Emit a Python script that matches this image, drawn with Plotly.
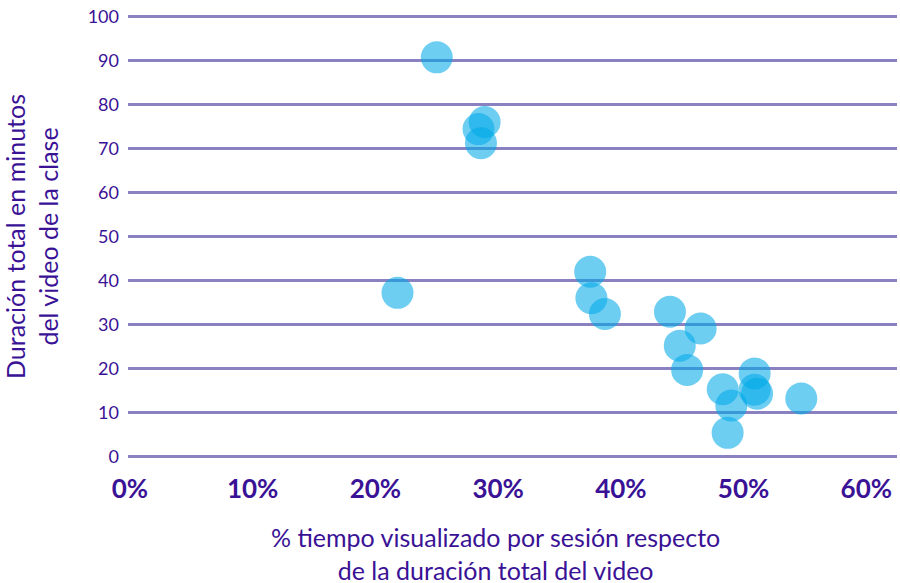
import plotly.graph_objects as go

# % of video watched per session (fraction) and total video duration (minutes)
pct_watched = [0.250, 0.289, 0.284, 0.286, 0.218, 0.375, 0.376, 0.387, 0.440, 0.465,
               0.448, 0.454, 0.509, 0.483, 0.509, 0.511, 0.490, 0.547, 0.487]
duration_min = [90.7, 76.0, 74.4, 71.2, 37.2, 42.0, 36.0, 32.4, 32.9, 29.1,
                25.2, 19.7, 18.9, 15.3, 15.2, 14.3, 11.6, 13.2, 5.4]

x_ticks = [0, 0.1, 0.2, 0.3, 0.4, 0.5, 0.6]
y_ticks = [0, 10, 20, 30, 40, 50, 60, 70, 80, 90, 100]

x_title = "% tiempo visualizado por sesión respecto<br>de la duración total del video"
y_title = "Duración total en minutos<br>del video de la clase"

TXT = "#3a1296"
GRID = "#8a82c0"
FONT = "Lato, 'Open Sans', sans-serif"

fig = go.Figure(go.Scatter(
    x=pct_watched, y=duration_min, mode="markers",
    marker=dict(size=32, color="rgba(0,168,232,0.57)", line=dict(width=0)),
    hoverinfo="skip",
))

fig.update_layout(
    width=900, height=583,
    margin=dict(l=128, r=3, t=12, b=122),
    paper_bgcolor="white", plot_bgcolor="white",
    font=dict(family=FONT, color=TXT),
    showlegend=False,
    xaxis=dict(
        range=[-0.0016, 0.625], tickvals=x_ticks, tickformat=".0%",
        showgrid=False, zeroline=False, showline=False, ticks="",
        automargin=False, ticklabelstandoff=10,
        tickfont=dict(size=26, color=TXT, family=FONT, weight="bold"),
    ),
    yaxis=dict(
        range=[-1, 101], tickvals=y_ticks,
        showgrid=True, gridcolor=GRID, gridwidth=2.5,
        zeroline=False, showline=False, ticks="", ticklabelstandoff=8,
        automargin=False,
        tickfont=dict(size=18, color=TXT),
        title=dict(text=y_title, font=dict(size=25, color=TXT), standoff=22),
    ),
    annotations=[dict(
        text=x_title, xref="paper", yref="paper", x=0.4785, y=-0.205,
        xanchor="center", yanchor="middle", showarrow=False,
        font=dict(size=25, color=TXT, family=FONT),
    )],
)

fig.write_html(
    "out.html",
    config={"displayModeBar": False},
    post_script="document.body.style.margin='0';document.body.style.padding='0';",
)
